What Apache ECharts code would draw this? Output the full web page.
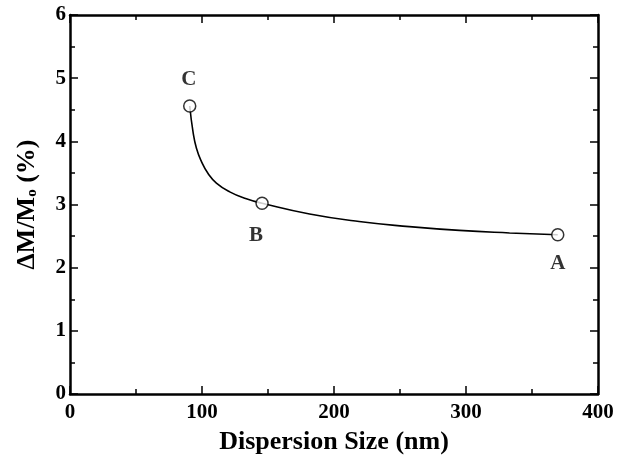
<!DOCTYPE html>
<html>
<head>
<meta charset="utf-8">
<script src="https://cdn.jsdelivr.net/npm/echarts@6/dist/echarts.min.js"></script>
<style>
  html, body { margin: 0; padding: 0; background: #fff; }
  #chart { width: 629px; height: 460px; }
</style>
</head>
<body>
<div id="chart"></div>
<script>
const sampleNames = ['A', 'B', 'C'];
const sampleSize = [369.5, 145.5, 90.7];
const sampleDelta = [2.52, 3.02, 4.56];

// fitted curve
const curveSize = [90.7, 93.2, 95.8, 99.6, 104.6, 110.9, 121, 133.6, 145.5, 181.5, 219, 257, 295, 333, 369.5];
const curveDelta = [4.56, 4.15, 3.89, 3.68, 3.49, 3.34, 3.20, 3.09, 3.02, 2.85, 2.73, 2.65, 2.59, 2.55, 2.52];

const xTicks = [0, 100, 200, 300, 400];
const yTicks = [0, 1, 2, 3, 4, 5, 6];

const FONT = 'Liberation Serif';
const labelPos = { A: 'bottom', B: 'bottom', C: 'top' };
const labelOffset = { A: [0, 6], B: [-6, 9], C: [-1, -3] };

const chart = echarts.init(document.getElementById('chart'), null, { renderer: 'canvas' });

const axisBase = function (min, max, step) {
  return {
    type: 'value',
    min: min,
    max: max,
    interval: step,
    axisLine: { show: true, onZero: false, lineStyle: { color: '#000', width: 2.5 } },
    axisTick: { show: true, inside: true, length: 8, lineStyle: { color: '#000', width: 1.5 } },
    minorTick: { show: true, splitNumber: 2, length: 5, lineStyle: { color: '#000', width: 1.5 } },
    splitLine: { show: false },
    axisLabel: {
      fontFamily: FONT, fontWeight: 'bold', fontSize: 21, color: '#000'
    }
  };
};

const xMain = axisBase(xTicks[0], xTicks[xTicks.length - 1], xTicks[1] - xTicks[0]);
xMain.position = 'bottom';
xMain.axisLabel.margin = 8;
xMain.name = 'Dispersion Size (nm)';
xMain.nameLocation = 'middle';
xMain.nameGap = 35;
xMain.nameTextStyle = { fontFamily: FONT, fontWeight: 'bold', fontSize: 26, color: '#000' };

const xTop = axisBase(xTicks[0], xTicks[xTicks.length - 1], xTicks[1] - xTicks[0]);
xTop.position = 'top';
xTop.axisLabel = { show: false };

const yMain = axisBase(yTicks[0], yTicks[yTicks.length - 1], yTicks[1] - yTicks[0]);
yMain.position = 'left';
yMain.axisLabel.margin = 4;
yMain.name = '{a|ΔM/M}{b|o}{a| (%)}';
yMain.nameLocation = 'middle';
yMain.nameGap = 30;
yMain.nameTextStyle = {
  rich: {
    a: { fontFamily: FONT, fontWeight: 'bold', fontSize: 26, color: '#000' },
    b: { fontFamily: FONT, fontWeight: 'bold', fontSize: 15, color: '#000', verticalAlign: 'bottom', padding: [8, 0, 0, 0] }
  }
};

const yRight = axisBase(yTicks[0], yTicks[yTicks.length - 1], yTicks[1] - yTicks[0]);
yRight.position = 'right';
yRight.axisLabel = { show: false };

const option = {
  animation: false,
  backgroundColor: '#fff',
  grid: { left: 70, right: 31, top: 15, bottom: 61 },
  xAxis: [xMain, xTop],
  yAxis: [yMain, yRight],
  series: [
    {
      type: 'line',
      data: curveSize.map((x, i) => [x, curveDelta[i]]),
      smooth: 0.5,
      showSymbol: false,
      lineStyle: { color: '#000', width: 1.6 },
      silent: true,
      z: 2
    },
    {
      type: 'scatter',
      symbol: 'circle',
      symbolSize: 12,
      itemStyle: { color: '#fff', borderColor: '#000', borderWidth: 1.5 },
      data: sampleNames.map((n, i) => ({
        name: n,
        value: [sampleSize[i], sampleDelta[i]],
        label: { position: labelPos[n], offset: labelOffset[n] }
      })),
      label: {
        show: true,
        formatter: '{b}',
        distance: 6,
        fontFamily: FONT,
        fontWeight: 'bold',
        fontSize: 21,
        color: '#000'
      },
      z: 3
    }
  ]
};

chart.setOption(option);
</script>
</body>
</html>
